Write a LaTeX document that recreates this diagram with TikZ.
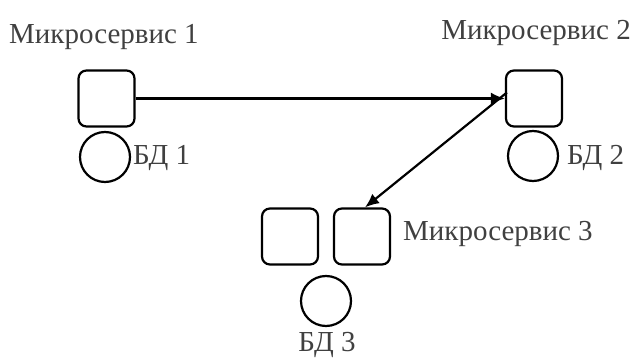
\documentclass[tikz,border=0pt]{standalone}
\usepackage{fontspec}
\setmainfont{Liberation Serif}
\usetikzlibrary{arrows.meta}
\begin{document}
\begin{tikzpicture}[x=1pt,y=-1pt,
  svc/.style={draw, line width=2.2pt, rounded corners=8pt, minimum width=56pt, minimum height=56pt, inner sep=0pt},
  db/.style={draw, circle, line width=2.2pt, minimum size=50pt, inner sep=0pt},
  lbl/.style={font=\fontsize{29}{34}\selectfont, text=black!75, inner sep=0pt},
  link/.style={line width=2.2pt, -{Latex[length=14pt,width=12pt]}}]
\useasboundingbox (0,0) rectangle (635,358);
% services
\node[svc] (s1) at (106.5,98.5) {};
\node[svc] (s2) at (534,98.5) {};
\node[svc] (s3a) at (290,236.5) {};
\node[svc] (s3) at (362,236.5) {};
% databases
\node[db] (d1) at (105,157) {};
\node[db] (d2) at (533,156) {};
\node[db] (d3) at (326,301) {};
% labels
\node[lbl, anchor=west] (t1) at (9,37) {Микросервис 1};
\node[lbl, anchor=east] (t2) at (631,33) {Микросервис 2};
\node[lbl, anchor=west] (t3) at (403,234) {Микросервис 3};
\node[lbl, anchor=west] (b1) at (133,158) {БД 1};
\node[lbl, anchor=west] (b2) at (567,158) {БД 2};
\node[lbl] (b3) at (327,345) {БД 3};
% connections
\draw[link] (s1.east) -- (s2.west);
\coordinate (s2c) at ([xshift=2pt,yshift=6pt]s2.west);
\coordinate (s3t) at ([xshift=3pt]s3.north);
\draw[link] (s2c) -- (s3t);
\end{tikzpicture}
\end{document}
